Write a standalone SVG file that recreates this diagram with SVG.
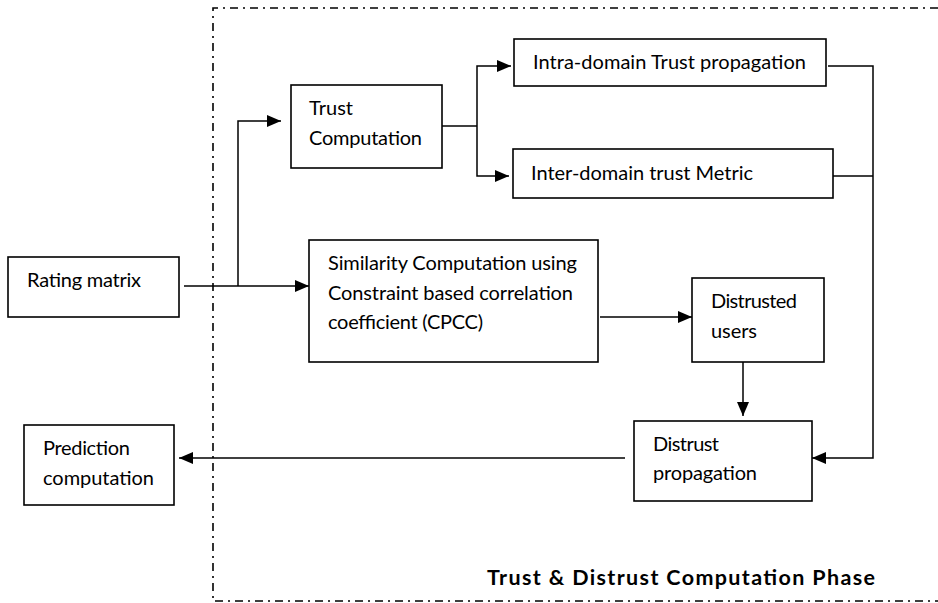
<svg xmlns="http://www.w3.org/2000/svg" width="938" height="603" viewBox="0 0 938 603">
<style>
.box{fill:#fff;stroke:#000;stroke-width:1.6}
.t{font-family:Lato,"Liberation Sans",sans-serif;font-size:20px;fill:#000}
.title{font-family:Lato,"Liberation Sans",sans-serif;font-size:21.5px;font-weight:bold;fill:#000}
.c{fill:none;stroke:#000;stroke-width:1.5}
.a{marker-end:url(#arr)}
.frame{fill:none;stroke:#000;stroke-width:1.6;stroke-dasharray:8 5 2 5}
</style>
<defs>
<marker id="arr" markerUnits="userSpaceOnUse" markerWidth="14" markerHeight="12" refX="14" refY="6" orient="auto">
<path d="M0,0 L14,6 L0,12 Z" fill="#000"/>
</marker>
</defs>
<path class="frame" d="M938,8 H213 V601 H938"/>
<g id="connectors">
<path class="c a" d="M184,286 H309"/>
<path class="c a" d="M238,286 V121 H281"/>
<path class="c" d="M442,126 H477"/>
<path class="c a" d="M477,126 V66 H511"/>
<path class="c a" d="M477,126 V176 H509"/>
<path class="c a" d="M828,66 H873 V458 H812"/>
<path class="c" d="M833,176 H873"/>
<path class="c a" d="M600,317 H692"/>
<path class="c a" d="M743,362 V416"/>
<path class="c a" d="M625,458 H179"/>
</g>
<g id="rating">
<rect class="box" x="8" y="257" width="171" height="60"/>
<text class="t" x="27" y="287" textLength="114">Rating matrix</text>
</g>
<g id="trust">
<rect class="box" x="291" y="85" width="151" height="83"/>
<text class="t" x="309" y="115" textLength="44">Trust</text>
<text class="t" x="309" y="145" textLength="113">Computation</text>
</g>
<g id="intra">
<rect class="box" x="514" y="39" width="312" height="47"/>
<text class="t" x="533" y="69" textLength="273">Intra-domain Trust propagation</text>
</g>
<g id="inter">
<rect class="box" x="513" y="149" width="320" height="49"/>
<text class="t" x="531" y="180" textLength="222">Inter-domain trust Metric</text>
</g>
<g id="similarity">
<rect class="box" x="309" y="240" width="289" height="122"/>
<text class="t" x="328" y="270" textLength="249">Similarity Computation using</text>
<text class="t" x="328" y="300" textLength="245">Constraint based correlation</text>
<text class="t" x="328" y="329" textLength="155">coefficient (CPCC)</text>
</g>
<g id="distrusted">
<rect class="box" x="692" y="278" width="132" height="84"/>
<text class="t" x="711" y="308" textLength="86">Distrusted</text>
<text class="t" x="711" y="338" textLength="46">users</text>
</g>
<g id="distrust">
<rect class="box" x="634" y="421" width="178" height="80"/>
<text class="t" x="653" y="451" textLength="66">Distrust</text>
<text class="t" x="653" y="480" textLength="104">propagation</text>
</g>
<g id="prediction">
<rect class="box" x="24" y="425" width="150" height="80"/>
<text class="t" x="43" y="455" textLength="87">Prediction</text>
<text class="t" x="43" y="485" textLength="111">computation</text>
</g>
<text class="title" x="487" y="585" textLength="388">Trust &amp; Distrust Computation Phase</text>
</svg>
